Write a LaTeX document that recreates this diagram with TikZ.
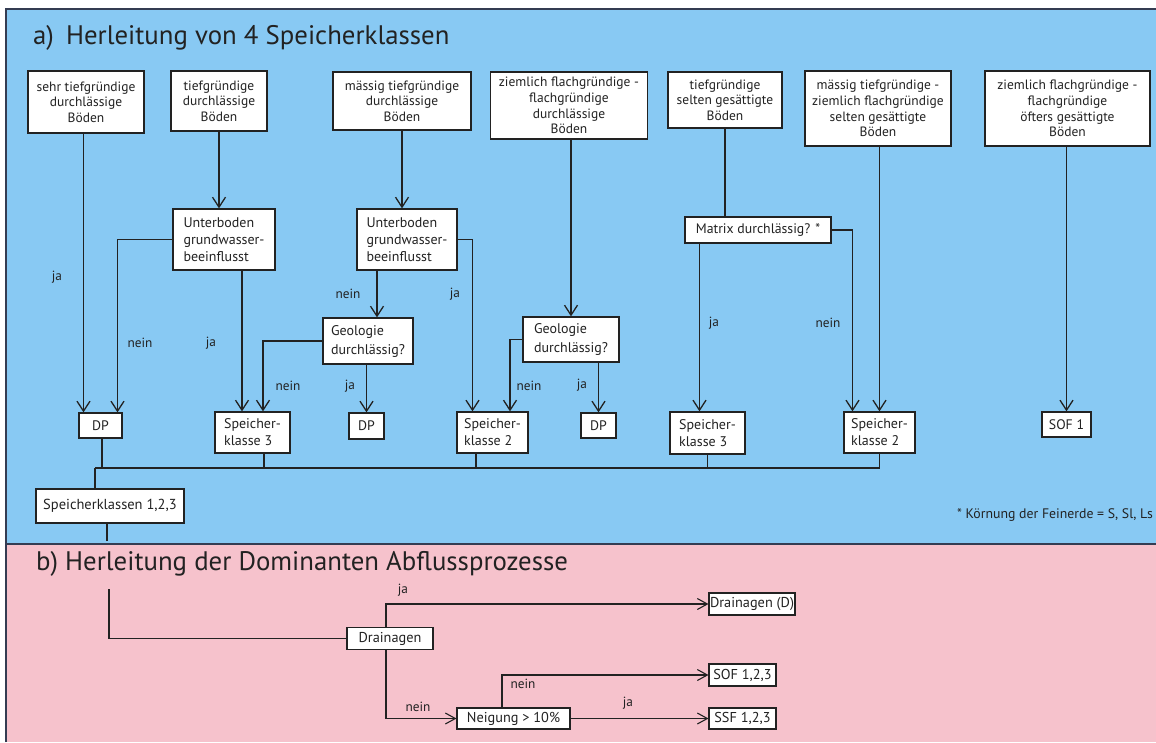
\documentclass[tikz,border=0pt]{standalone}
\usepackage{fontspec}
\setmainfont{PT Sans}
\usetikzlibrary{arrows.meta}
\definecolor{bluebg}{RGB}{136,201,243}
\definecolor{pinkbg}{RGB}{246,194,204}
\definecolor{ink}{RGB}{34,34,34}
\definecolor{framec}{RGB}{52,60,82}
\tikzset{
  box/.style={draw=ink, fill=white, line width=1.3pt, inner sep=0pt, align=center, text=ink},
  topbox/.style={box, font=\fontsize{13.5}{15.6}\selectfont},
  qbox/.style={box, align=left, font=\fontsize{14}{17}\selectfont},
  sbox/.style={box, font=\fontsize{13.8}{16}\selectfont},
  pbox/.style={box, line width=1.1pt, font=\fontsize{14.3}{15}\selectfont},
  lab/.style={font=\fontsize{13.3}{15}\selectfont, text=ink, inner sep=0pt},
  conn/.style={draw=ink, line width=1.3pt},
  arr/.style={conn, -{Straight Barb[length=10pt,width=13pt,line width=1.3pt]}},
  parr/.style={conn, line width=1.1pt, -{Straight Barb[length=10pt,width=11pt,line width=1.1pt]}},
  title/.style={anchor=west, text=ink, inner sep=0pt, font=\fontsize{26.8}{30}\selectfont}
}
\begin{document}
\begin{tikzpicture}[x=1pt,y=-1pt]
\useasboundingbox (0,0) rectangle (1156,742);
% backgrounds
\fill[white] (0,0) rectangle (1156,742);
\fill[bluebg] (6,9) rectangle (1156,544);
\fill[pinkbg] (6,544) rectangle (1156,742);
\draw[framec, line width=2pt] (6,742) -- (6,9) -- (1156,9);
\draw[framec, line width=2pt] (6,544) -- (1156,544);

% titles
\node[title] (ta) at (33,38) {a)\hspace{0.45em}Herleitung von 4 Speicherklassen};
\node[title] (tb) at (36,564) {b) Herleitung der Dominanten Abflussprozesse};

% top row
\node[topbox, minimum width=116pt, minimum height=62pt] (b1) at (86,102) {sehr tiefgründige\\durchlässige\\Böden};
\node[topbox, minimum width=96pt, minimum height=60pt] (b2) at (219,101) {tiefgründige\\durchlässige\\Böden};
\node[topbox, minimum width=138pt, minimum height=58pt] (b3) at (402,101) {mässig tiefgründige\\durchlässige\\Böden};
\node[topbox, minimum width=157pt, minimum height=67pt] (b4) at (569,105.5) {ziemlich flachgründige -\\flachgründige\\durchlässige\\Böden};
\node[topbox, minimum width=114pt, minimum height=56pt] (b5) at (725,100) {tiefgründige\\selten gesättigte\\Böden};
\node[topbox, minimum width=146pt, minimum height=75pt] (b6) at (878,108.5) {mässig tiefgründige -\\ziemlich flachgründige\\selten gesättigte\\Böden};
\node[topbox, minimum width=165pt, minimum height=75pt] (b7) at (1067.5,108.5) {ziemlich flachgründige -\\flachgründige\\öfters gesättigte\\Böden};

% questions
\node[qbox, minimum width=102pt, minimum height=61pt] (u1) at (224,239.5) {Unterboden\\grundwasser-\\beeinflusst};
\node[qbox, minimum width=100pt, minimum height=61pt] (u2) at (407,239.5) {Unterboden\\grundwasser-\\beeinflusst};
\node[sbox, minimum width=146pt, minimum height=26pt] (mx) at (758,230) {Matrix durchlässig? *};
\node[qbox, minimum width=90pt, minimum height=46pt, font=\fontsize{14}{19}\selectfont] (g1) at (368,341) {Geologie\\durchlässig?};
\node[qbox, minimum width=96pt, minimum height=45pt, font=\fontsize{14}{19}\selectfont] (g2) at (571,339.5) {Geologie\\durchlässig?};

% results
\node[sbox, minimum width=43pt, minimum height=25pt] (dp1) at (100.5,425.5) {DP};
\node[qbox, minimum width=75pt, minimum height=41pt] (sk3a) at (252.5,432.5) {Speicher-\\klasse 3};
\node[sbox, minimum width=35pt, minimum height=26pt] (dp2) at (366.5,426) {DP};
\node[qbox, minimum width=71pt, minimum height=41pt] (sk2a) at (492.5,432.5) {Speicher-\\klasse 2};
\node[sbox, minimum width=35pt, minimum height=25pt] (dp3) at (598.5,425.5) {DP};
\node[qbox, minimum width=75pt, minimum height=42pt] (sk3b) at (707.5,433) {Speicher-\\klasse 3};
\node[qbox, minimum width=71pt, minimum height=41pt] (sk2b) at (879.5,432.5) {Speicher-\\klasse 2};
\node[sbox, minimum width=49pt, minimum height=25pt] (sof1) at (1066.5,424.5) {SOF 1};
\node[sbox, minimum width=148pt, minimum height=34pt, font=\fontsize{14.5}{16}\selectfont] (sk123) at (110,506) {Speicherklassen 1,2,3};

\node[lab, anchor=east, font=\fontsize{13.8}{15}\selectfont] (fn) at (1153,515) {* Körnung der Feinerde = S, Sl, Ls};

% connectors a)
\draw[arr] ([xshift=-17pt]dp1.north |- b1.south) -- ([xshift=-17pt]dp1.north);
\draw[arr] (u1.west) -| ([xshift=17pt]dp1.north);
\draw[arr] (b2.south) -- (b2.south |- u1.north);
\draw[arr] ([xshift=18pt]u1.south) -- ([xshift=18pt]u1.south |- sk3a.north);
\draw[arr] (g1.west) -| ([xshift=10.5pt]sk3a.north);
\draw[arr] (b3.south) -- (b3.south |- u2.north);
\draw[arr] ([xshift=-30pt]u2.south) -- ([xshift=-30pt]u2.south |- g1.north);
\draw[arr] (u2.east) -| ([xshift=-20pt]sk2a.north);
\draw[arr] (g1.south -| dp2.north) -- (dp2.north);
\draw[arr] (b4.south -| g2.north) -- (g2.north);
\draw[arr] (g2.west) -| ([xshift=17.5pt]sk2a.north);
\draw[arr] (g2.south -| dp3.north) -- (dp3.north);
\draw[conn] (b5.south) -- (b5.south |- mx.north);
\draw[arr] ([xshift=-8pt]sk3b.north |- mx.south) -- ([xshift=-8pt]sk3b.north);
\draw[arr] (mx.east) -| ([xshift=-27pt]sk2b.north);
\draw[arr] (b6.south -| sk2b.north) -- (sk2b.north);
\draw[arr] (b7.south -| sof1.north) -- (sof1.north);

% collector bus
\coordinate (busL) at (95,468);
\coordinate (sepend) at (107,541);
\draw[conn] ([xshift=1.5pt]dp1.south) -- ([xshift=1.5pt]dp1.south |- busL);
\draw[conn] ([xshift=11.5pt]sk3a.south) -- ([xshift=11.5pt]sk3a.south |- busL);
\draw[conn] ([xshift=-16.5pt]sk2a.south) -- ([xshift=-16.5pt]sk2a.south |- busL);
\draw[conn] (sk3b.south) -- (sk3b.south |- busL);
\draw[conn] (sk2b.south) -- (sk2b.south |- busL);
\draw[conn] (busL) -- (busL -| sk2b.south);
\draw[conn] (busL) -- (busL |- sk123.north);
\draw[conn] (sk123.south -| sepend) -- (sepend);

% labels a)
\node[lab] (l1) at (57,277) {ja};
\node[lab] (l2) at (140,343) {nein};
\node[lab] (l3) at (211,343) {ja};
\node[lab] (l4) at (348,294) {nein};
\node[lab] (l5) at (455,294) {ja};
\node[lab] (l6) at (288,386) {nein};
\node[lab] (l7) at (350,386) {ja};
\node[lab] (l8) at (529,386) {nein};
\node[lab] (l9) at (582,385) {ja};
\node[lab] (l10) at (714,323) {ja};
\node[lab] (l11) at (828,323) {nein};

% part b)
\node[pbox, minimum width=86pt, minimum height=22pt] (dr) at (390,638.5) {Drainagen};
\node[pbox, minimum width=86pt, minimum height=22pt] (drd) at (752,604) {Drainagen (D)};
\node[pbox, minimum width=113pt, minimum height=21pt] (ng) at (513.5,718.5) {Neigung > 10\%};
\node[pbox, minimum width=67pt, minimum height=22pt] (sof123) at (742.5,675) {SOF 1,2,3};
\node[pbox, minimum width=67pt, minimum height=21pt] (ssf) at (742.5,718.5) {SSF 1,2,3};

\coordinate (pstart) at (109,589);
\draw[conn, line width=1.1pt] (pstart) |- (dr.west);
\draw[parr] ([xshift=-4pt]dr.north) |- (drd.west);
\draw[parr] ([xshift=-4pt]dr.south) |- (ng.west);
\draw[parr] ([xshift=-11.5pt]ng.north) |- (sof123.west);
\draw[parr] (ng.east) -- (ssf.west);

\node[lab] (m1) at (403,590) {ja};
\node[lab] (m2) at (418,707) {nein};
\node[lab] (m3) at (523,684) {nein};
\node[lab] (m4) at (628,703) {ja};
\end{tikzpicture}
\end{document}
